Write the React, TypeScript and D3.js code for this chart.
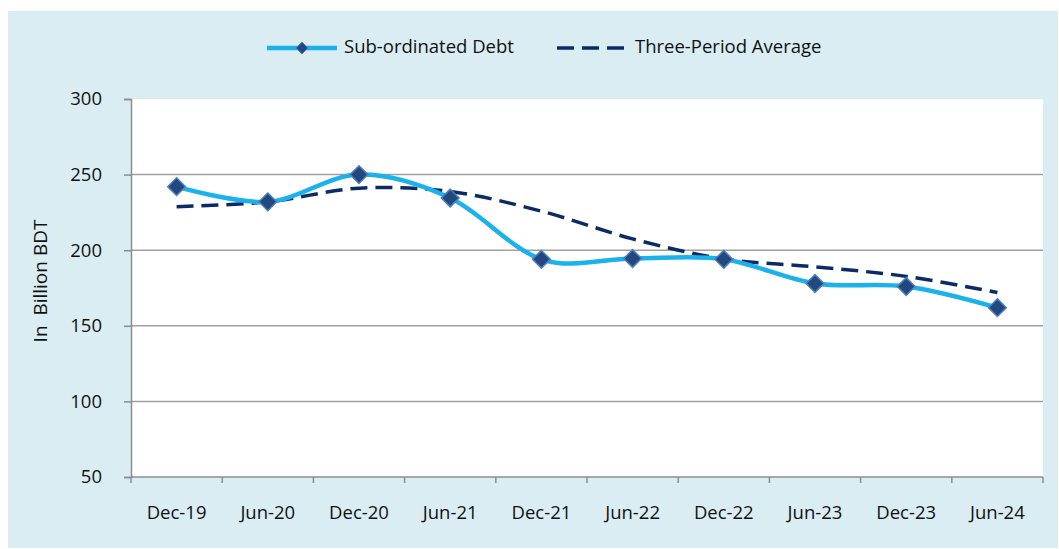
import React, { useEffect, useRef } from 'react'
import * as d3 from 'd3'

const periods = ['Dec-19', 'Jun-20', 'Dec-20', 'Jun-21', 'Dec-21', 'Jun-22', 'Dec-22', 'Jun-23', 'Dec-23', 'Jun-24']
const subDebt = [242, 232, 250, 234.5, 194, 194.5, 194, 178, 176, 162]
const threeAvg = [228.8, 232, 241, 238.8, 225.8, 207.5, 194.2, 189, 182.7, 172]
const yTicks = [50, 100, 150, 200, 250, 300]
const seriesNames = ['Sub-ordinated Debt', 'Three-Period Average']

const W = 1059
const H = 549
const FONT = '"Open Sans", sans-serif'

export default function App() {
  const ref = useRef<SVGSVGElement>(null)

  useEffect(() => {
    const svg = d3.select(ref.current)
    svg.selectAll('*').remove()

    const left = 131, right = 1043, top = 99, bottom = 477

    const x = d3.scaleBand<string>().domain(periods).range([left, right]).padding(0)
    const cx = (p: string) => (x(p) as number) + x.bandwidth() / 2
    const y = d3.scaleLinear().domain([50, 300]).range([bottom, top])

    // outer panel
    svg.append('rect').attr('x', 8).attr('y', 11).attr('width', 1050).attr('height', 537).attr('fill', '#daedf3')
    svg.append('rect').attr('x', left).attr('y', top).attr('width', right - left).attr('height', bottom - top).attr('fill', '#fff')

    // gridlines
    svg.append('g')
      .selectAll('line')
      .data(yTicks.filter(t => t > 50 && t < 300))
      .join('line')
      .attr('x1', left).attr('x2', right)
      .attr('y1', d => y(d)).attr('y2', d => y(d))
      .attr('stroke', '#a0a0a0').attr('stroke-width', 1.5)

    // y axis
    const yAxis = d3.axisLeft(y).tickValues(yTicks).tickSize(7).tickPadding(22)
    const gy = svg.append('g').attr('transform', `translate(${left},0)`).call(yAxis)
    gy.selectAll('.domain, .tick line').attr('stroke', '#8c8c8c').attr('stroke-width', 1.5)
    gy.selectAll('text').attr('fill', '#111').style('font-family', FONT).style('font-size', '18.5px')

    // x axis
    const gx = svg.append('g')
    gx.append('line').attr('x1', left).attr('x2', right).attr('y1', bottom).attr('y2', bottom)
      .attr('stroke', '#8c8c8c').attr('stroke-width', 1.5)
    const bounds = periods.map(p => x(p) as number).concat([right])
    gx.selectAll('line.tk').data(bounds).join('line').attr('class', 'tk')
      .attr('x1', d => d).attr('x2', d => d).attr('y1', bottom).attr('y2', bottom + 6)
      .attr('stroke', '#8c8c8c').attr('stroke-width', 1.5)
    gx.selectAll('text').data(periods).join('text')
      .attr('x', d => cx(d)).attr('y', 514)
      .attr('text-anchor', 'middle').attr('dominant-baseline', 'middle')
      .attr('fill', '#111').style('font-family', FONT).style('font-size', '18.5px')
      .text(d => d)

    // y title
    svg.append('text')
      .attr('transform', 'translate(42,281) rotate(-90)')
      .attr('text-anchor', 'middle').attr('dominant-baseline', 'middle')
      .attr('fill', '#111').style('font-family', FONT).style('font-size', '19px')
      .style('white-space', 'pre')
      .text('In  Billion BDT')

    const line = d3.line<number>()
      .x((_, i) => cx(periods[i]))
      .y(d => y(d))
      .curve(d3.curveCatmullRom.alpha(0))

    svg.append('path').datum(threeAvg).attr('d', line)
      .attr('fill', 'none').attr('stroke', '#0c2a66').attr('stroke-width', 3.5)
      .attr('stroke-dasharray', '17,8')

    svg.append('path').datum(subDebt).attr('d', line)
      .attr('fill', 'none').attr('stroke', '#1ab2ec').attr('stroke-width', 4.5)

    const diamond = d3.symbol().type(d3.symbolDiamond2).size(200)
    svg.append('g').selectAll('path').data(subDebt).join('path')
      .attr('transform', (d, i) => `translate(${cx(periods[i])},${y(d)})`)
      .attr('d', diamond)
      .attr('fill', '#22487f').attr('stroke', '#4d7fbd').attr('stroke-width', 1.5)

    // legend
    const lg = svg.append('g')
    const ly = 48
    lg.append('line').attr('x1', 267).attr('x2', 337).attr('y1', ly).attr('y2', ly)
      .attr('stroke', '#1ab2ec').attr('stroke-width', 4.5)
    lg.append('path').attr('transform', `translate(302,${ly})`)
      .attr('d', d3.symbol().type(d3.symbolDiamond2).size(90))
      .attr('fill', '#22487f').attr('stroke', '#4d7fbd').attr('stroke-width', 1)
    lg.append('text').attr('x', 344).attr('y', ly).attr('dominant-baseline', 'middle')
      .attr('fill', '#111').style('font-family', FONT).style('font-size', '18.5px')
      .text(seriesNames[0])
    lg.append('line').attr('x1', 557).attr('x2', 625).attr('y1', ly).attr('y2', ly)
      .attr('stroke', '#0c2a66').attr('stroke-width', 3.5).attr('stroke-dasharray', '17,8')
    lg.append('text').attr('x', 635).attr('y', ly).attr('dominant-baseline', 'middle')
      .attr('fill', '#111').style('font-family', FONT).style('font-size', '18.5px')
      .text(seriesNames[1])
  }, [])

  return <svg ref={ref} width={W} height={H} style={{ position: 'absolute', left: 0, top: 0 }} />
}
